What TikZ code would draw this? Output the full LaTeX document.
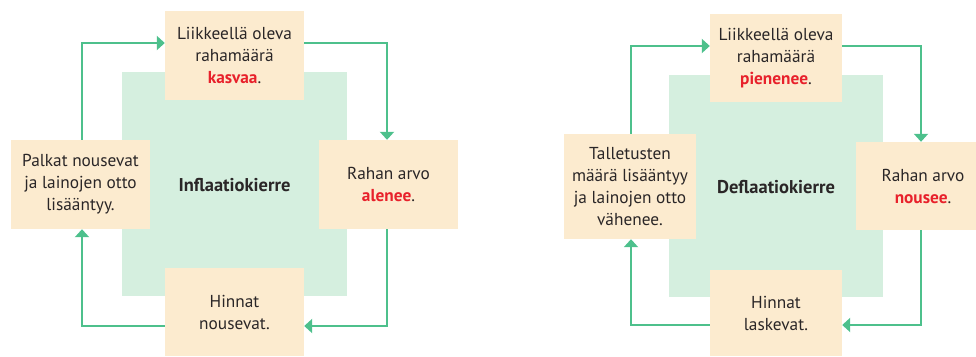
\documentclass[tikz,border=0pt]{standalone}
\usepackage{fontspec}
\setmainfont{PT Sans}
\usetikzlibrary{arrows.meta}
\definecolor{boxfill}{HTML}{FCEBCF}
\definecolor{sqfill}{HTML}{D5EFDF}
\definecolor{arrgreen}{HTML}{4DC08C}
\definecolor{hired}{HTML}{E8212B}
\definecolor{txt}{HTML}{2A2627}
\tikzset{
  x=1pt, y=-1pt,
  stepbox/.style={fill=boxfill, draw=none, inner sep=0pt, align=center, font=\fontsize{17.3}{22}\selectfont, text=txt},
  sq/.style={fill=sqfill, draw=none},
  cyc/.style={draw=arrgreen, line width=2pt, -{Triangle[width=14pt,length=8pt]}},
  title/.style={font=\fontsize{18.5}{22}\selectfont\bfseries, text=txt},
}
\newcommand{\hl}[1]{\textcolor{hired}{\textbf{#1}}}
\begin{document}
\begin{tikzpicture}
\useasboundingbox (0,0) rectangle (976,356);
\clip (0,0) rectangle (976,356);
% ---------- left: inflation ----------
\fill[sq] (122,72) rectangle (347,296);
\node[stepbox, minimum width=139pt, minimum height=89pt] (lt) at (234.5,55.5) {Liikkeellä oleva\\rahamäärä\\\hl{kasvaa}.};
\node[stepbox, minimum width=139pt, minimum height=89pt] (lr) at (388.5,184.5) {Rahan arvo\\\hl{alenee}.};
\node[stepbox, minimum width=139pt, minimum height=88pt] (lb) at (234.5,312) {Hinnat\\nousevat.};
\node[stepbox, minimum width=139pt, minimum height=89pt] (ll) at (80.5,184.5) {Palkat nousevat\\ja lainojen otto\\lisääntyy.};
\node[title] (lc) at (234.5,185) {Inflaatiokierre};
\coordinate (l1) at (82,43);
\coordinate (l2) at (387,43);
\coordinate (l3) at (387,326);
\coordinate (l4) at (82,326);
\draw[cyc] (ll.north -| l1) -- (l1) -- (lt.west |- l1);
\draw[cyc] (lt.east |- l2) -- (l2) -- (lr.north -| l2);
\draw[cyc] (lr.south -| l3) -- (l3) -- (lb.east |- l3);
\draw[cyc] (lb.west |- l4) -- (l4) -- (ll.south -| l4);
% ---------- right: deflation ----------
\fill[sq] (669,75) rectangle (883,297);
\node[stepbox, minimum width=132pt, minimum height=88pt] (rt) at (776,58) {Liikkeellä oleva\\rahamäärä\\\hl{pienenee}.};
\node[stepbox, minimum width=134pt, minimum height=88pt] (rr) at (923,186) {Rahan arvo\\\hl{nousee}.};
\node[stepbox, minimum width=132pt, minimum height=86pt] (rb) at (776,313) {Hinnat\\laskevat.};
\node[stepbox, minimum width=132pt, minimum height=105pt] (rl) at (630,186.5) {Talletusten\\määrä lisääntyy\\ja lainojen otto\\vähenee.};
\node[title] (rc) at (776,187) {Deflaatiokierre};
\coordinate (r1) at (631,46);
\coordinate (r2) at (921,46);
\coordinate (r3) at (921,325);
\coordinate (r4) at (631,325);
\draw[cyc] (rl.north -| r1) -- (r1) -- (rt.west |- r1);
\draw[cyc] (rt.east |- r2) -- (r2) -- (rr.north -| r2);
\draw[cyc] (rr.south -| r3) -- (r3) -- (rb.east |- r3);
\draw[cyc] (rb.west |- r4) -- (r4) -- (rl.south -| r4);
\end{tikzpicture}
\end{document}
